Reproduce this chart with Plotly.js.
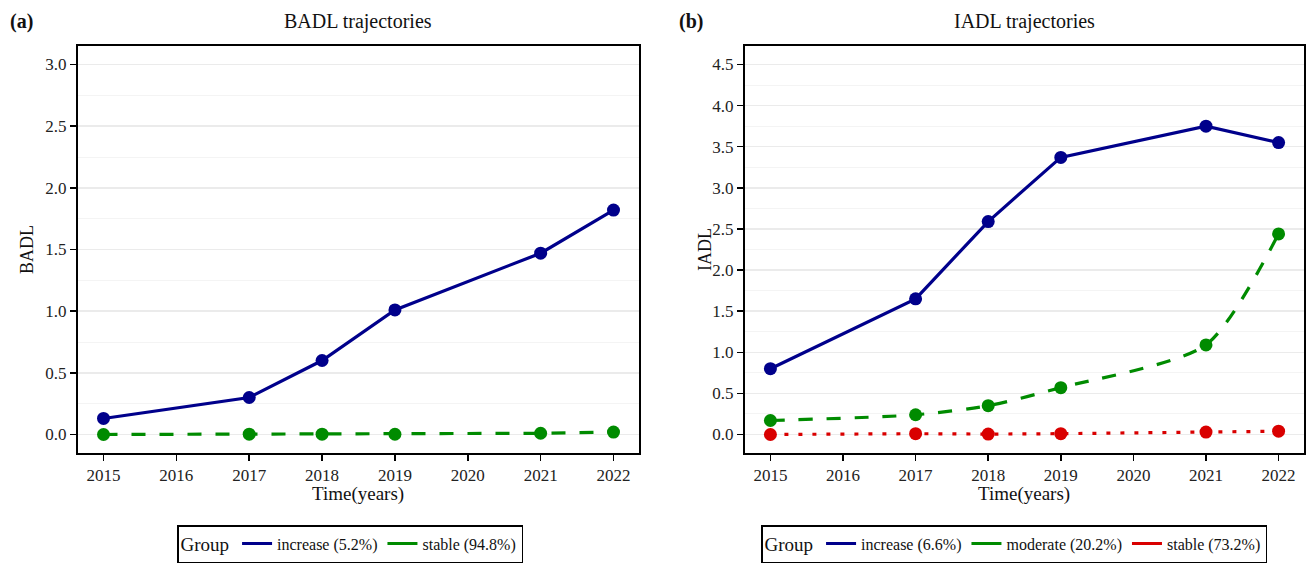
<!DOCTYPE html>
<html>
<head>
<meta charset="utf-8">
<script src="https://cdn.plot.ly/plotly-3.0.1.min.js"></script>
<style>html,body{margin:0;padding:0;background:#fff;}#chart{width:1307px;height:569px;}</style>
</head>
<body>
<div id="chart"></div>
<script>
// ---- data ----
const years = [2015, 2017, 2018, 2019, 2021, 2022];
const badlIncrease = [0.13, 0.30, 0.60, 1.01, 1.47, 1.82];
const badlStable   = [0.00, 0.003, 0.003, 0.002, 0.01, 0.02];
const iadlIncrease = [0.80, 1.65, 2.59, 3.37, 3.75, 3.55];
const iadlModerate = [0.17, 0.24, 0.35, 0.57, 1.09, 2.44];
const iadlStable   = [0.00, 0.01, 0.005, 0.01, 0.03, 0.04];
const badlLabels = ['increase (5.2%)', 'stable (94.8%)'];
const iadlLabels = ['increase (6.6%)', 'moderate (20.2%)', 'stable (73.2%)'];
const xTicks = [2015, 2016, 2017, 2018, 2019, 2020, 2021, 2022];

const BLUE = '#00008B', GREEN = '#008B00', RED = '#D90000';
const FONT = '"Liberation Serif", "Times New Roman", serif';
const W = 1307, H = 569;
const px = v => v / W, py = v => 1 - v / H;

function series(x, y, color, dash, xa, ya, shape) {
  return {x: x, y: y, xaxis: xa, yaxis: ya, type: 'scatter', mode: 'lines+markers',
    line: {color: color, width: 3.2, dash: dash, shape: shape || 'linear', smoothing: 0.7},
    marker: {color: color, size: 13}, showlegend: false, hoverinfo: 'x+y'};
}
function legItem(name, color, xa, ya, leg) {
  return {x: [null], y: [null], xaxis: xa, yaxis: ya, type: 'scatter', mode: 'lines',
    name: name, line: {color: color, width: 3}, legend: leg, showlegend: true};
}

const traces = [
  series(years, badlIncrease, BLUE, 'solid', 'x', 'y'),
  series(years, badlStable, GREEN, '14px,14px', 'x', 'y'),
  series(years, iadlIncrease, BLUE, 'solid', 'x2', 'y2'),
  series(years, iadlModerate, GREEN, '14px,14px', 'x2', 'y2', 'spline'),
  series(years, iadlStable, RED, '4px,10px', 'x2', 'y2'),
  legItem(badlLabels[0], BLUE, 'x', 'y', 'legend'),
  legItem(badlLabels[1], GREEN, 'x', 'y', 'legend'),
  legItem(iadlLabels[0], BLUE, 'x2', 'y2', 'legend2'),
  legItem(iadlLabels[1], GREEN, 'x2', 'y2', 'legend2'),
  legItem(iadlLabels[2], RED, 'x2', 'y2', 'legend2')
];

const TICKFONT = {family: FONT, size: 17, color: '#222'};

function xaxis(domain, anchor) {
  return {domain: domain, anchor: anchor, range: [2014.65, 2022.35], tickmode: 'array',
    tickvals: xTicks, ticktext: xTicks.map(String), showgrid: false, zeroline: false,
    showline: true, mirror: true, linecolor: '#000', linewidth: 2,
    ticks: 'outside', ticklen: 6, tickwidth: 1.5, tickcolor: '#000',
    tickfont: TICKFONT};
}
function yaxis(range, anchor) {
  return {domain: [py(453), py(46)], anchor: anchor, range: range, dtick: 0.5, tick0: 0,
    tickformat: '.1f', showgrid: true, gridcolor: '#EBEBEB', gridwidth: 1.5,
    minor: {dtick: 0.25, tick0: 0, showgrid: true, gridcolor: '#F4F4F4', gridwidth: 1},
    zeroline: false, showline: true, mirror: true, linecolor: '#000', linewidth: 2,
    ticks: 'outside', ticklen: 6, tickwidth: 1.5, tickcolor: '#000',
    tickfont: TICKFONT};
}

const legendBase = {orientation: 'h', xanchor: 'left', yanchor: 'top',
  bgcolor: '#fff', bordercolor: '#000', borderwidth: 1.5,
  font: {family: FONT, size: 16, color: '#111'},
  title: {text: 'Group', side: 'left', font: {family: FONT, size: 19, color: '#111'}},
  itemclick: false, itemdoubleclick: false};

const ann = (text, x, y, opts) => Object.assign({text: text, x: px(x), y: py(y), xref: 'paper', yref: 'paper',
  xanchor: 'center', yanchor: 'middle',
  showarrow: false, font: {family: FONT, size: 20, color: '#111'}}, opts || {});

const layout = {
  width: W, height: H, margin: {l: 0, r: 0, t: 0, b: 0},
  paper_bgcolor: '#fff', plot_bgcolor: '#fff',
  font: {family: FONT, size: 17, color: '#222'},
  xaxis: xaxis([px(78), px(639)], 'y'),
  yaxis: yaxis([-0.15, 3.15], 'x'),
  xaxis2: xaxis([px(745), px(1304)], 'y2'),
  yaxis2: yaxis([-0.225, 4.725], 'x2'),
  legend: Object.assign({}, legendBase, {x: px(177), y: py(525)}),
  legend2: Object.assign({}, legendBase, {x: px(761), y: py(525)}),
  annotations: [
    ann('<b>(a)</b>', 8, 22, {xanchor: 'left'}),
    ann('<b>(b)</b>', 677, 22, {xanchor: 'left'}),
    ann('BADL trajectories', 358, 22),
    ann('IADL trajectories', 1024, 22),
    ann('BADL', 27, 250, {textangle: -90, font: {family: FONT, size: 18, color: '#111'}}),
    ann('IADL', 705, 250, {textangle: -90, font: {family: FONT, size: 18, color: '#111'}}),
    ann('Time(years)', 358, 494, {font: {family: FONT, size: 19, color: '#111'}}),
    ann('Time(years)', 1024, 494, {font: {family: FONT, size: 19, color: '#111'}})
  ]
};

Plotly.newPlot('chart', traces, layout, {displayModeBar: false, staticPlot: true});
</script>
</body>
</html>
